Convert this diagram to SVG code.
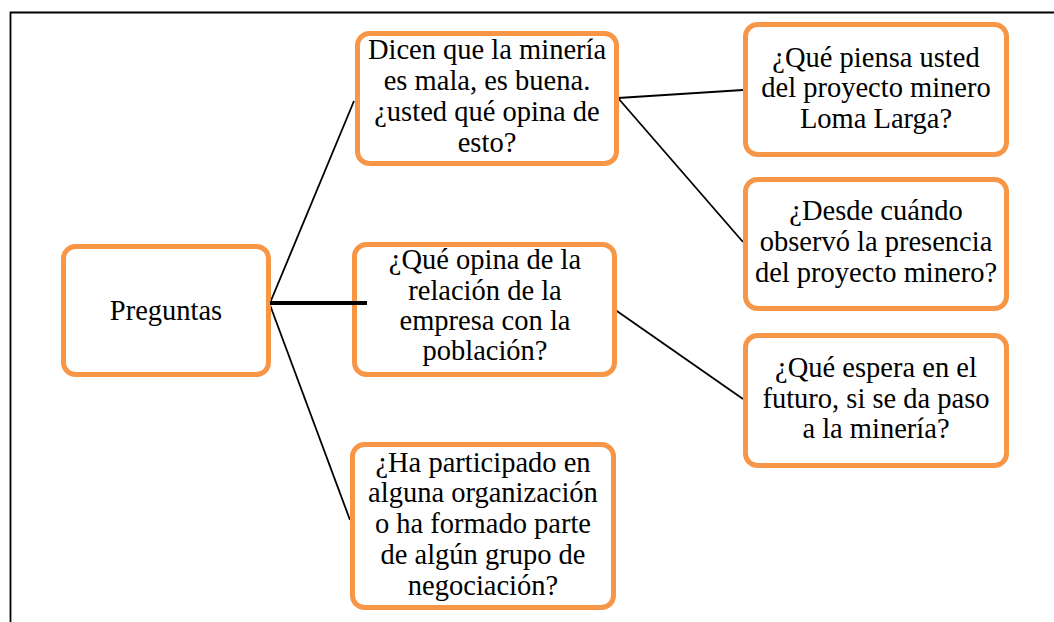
<svg xmlns="http://www.w3.org/2000/svg" width="1054" height="622" viewBox="0 0 1054 622">
<style>
.box{fill:#fff;stroke:#F79646;stroke-width:5}
.t{font-family:'Liberation Serif','Times New Roman','DejaVu Serif',serif;font-size:28.5px;fill:#000;text-anchor:middle}
.c{stroke:#000;stroke-width:1.8;fill:none}
</style>
<rect width="1054" height="622" fill="#fff"/>
<path d="M10.5,640 L10.5,12.5 L1060,12.5" fill="none" stroke="#000" stroke-width="1.8"/>
<g id="connectors">
<line class="c" x1="270" y1="303" x2="354" y2="101"/>
<line class="c" x1="270" y1="305" x2="350" y2="520"/>
<line class="c" x1="618" y1="98" x2="743" y2="90"/>
<line class="c" x1="618" y1="98" x2="743" y2="242"/>
<line class="c" x1="614" y1="309" x2="743" y2="399"/>
</g>
<g id="n0"><rect class="box" x="63.5" y="246.5" width="205" height="128" rx="12"/><text class="t" x="166" y="320">Preguntas</text></g>
<g id="n1"><rect class="box" x="357.5" y="33.5" width="259" height="130" rx="12"/><text class="t" x="487"><tspan x="487" y="59">Dicen que la minería</tspan><tspan x="487" y="90">es mala, es buena.</tspan><tspan x="487" y="121">¿usted qué opina de</tspan><tspan x="487" y="152">esto?</tspan></text></g>
<g id="n2"><rect class="box" x="354.5" y="244.5" width="260" height="130" rx="12"/><text class="t" x="485"><tspan x="485" y="269">¿Qué opina de la</tspan><tspan x="485" y="300">relación de la</tspan><tspan x="485" y="330">empresa con la</tspan><tspan x="485" y="360">población?</tspan></text></g>
<g id="n3"><rect class="box" x="352.5" y="444.5" width="261" height="163" rx="12"/><text class="t" x="483"><tspan x="483" y="472">¿Ha participado en</tspan><tspan x="483" y="502">alguna organización</tspan><tspan x="483" y="533">o ha formado parte</tspan><tspan x="483" y="564">de algún grupo de</tspan><tspan x="483" y="595">negociación?</tspan></text></g>
<g id="n4"><rect class="box" x="745.5" y="24.5" width="261" height="130" rx="12"/><text class="t" x="876"><tspan x="876" y="67">¿Qué piensa usted</tspan><tspan x="876" y="97">del proyecto minero</tspan><tspan x="876" y="128">Loma Larga?</tspan></text></g>
<g id="n5"><rect class="box" x="745.5" y="179.5" width="261" height="129" rx="12"/><text class="t" x="876"><tspan x="876" y="220">¿Desde cuándo</tspan><tspan x="876" y="251">observó la presencia</tspan><tspan x="876" y="282">del proyecto minero?</tspan></text></g>
<g id="n6"><rect class="box" x="745.5" y="335.5" width="261" height="130" rx="12"/><text class="t" x="876"><tspan x="876" y="377">¿Qué espera en el</tspan><tspan x="876" y="408">futuro, si se da paso</tspan><tspan x="876" y="438">a la minería?</tspan></text></g>
<line x1="270" y1="303" x2="367" y2="303" stroke="#000" stroke-width="4"/>
</svg>
